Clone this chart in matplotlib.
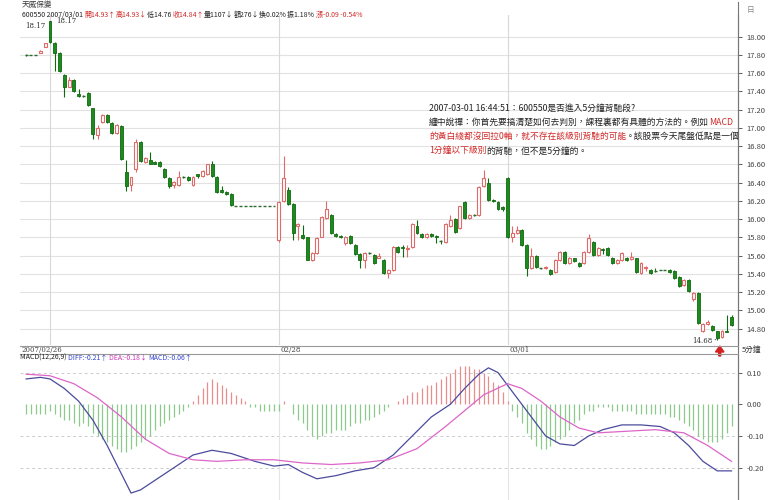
import matplotlib
matplotlib.use("Agg")
import matplotlib.pyplot as plt
from matplotlib.lines import Line2D

plt.rcParams['font.family'] = ['Noto Sans CJK TC', 'DejaVu Sans']

# 5-minute bars, 2007/02/26 (tail) .. 2007/03/01
opens = [17.80, 17.80, 17.80, 17.82, 17.89, 18.17, 17.93, 17.82, 17.58, 17.45,
         17.53, 17.37, 17.35, 17.38, 17.22, 16.92, 17.06, 17.14, 17.05, 16.94,
         17.02, 16.52, 16.37, 16.55, 16.85, 16.63, 16.65, 16.63, 16.63, 16.55,
         16.45, 16.37, 16.37, 16.46, 16.46, 16.37, 16.50, 16.47, 16.49, 16.60,
         16.46, 16.32, 16.30, 16.28, 16.14, 16.14, 16.14, 16.14, 16.14, 16.14,
         16.14, 16.14, 16.14, 15.77, 16.20, 16.32, 16.17, 15.93, 15.83, 15.80,
         15.55, 15.63, 15.81, 16.01, 16.05, 15.84, 15.82, 15.74, 15.82, 15.72,
         15.62, 15.55, 15.63, 15.61, 15.58, 15.55, 15.41, 15.44, 15.70, 15.69,
         15.67, 15.69, 15.92, 15.84, 15.80, 15.84, 15.82, 15.76, 15.75, 15.92,
         16.00, 15.90, 16.19, 16.01, 16.05, 16.05, 16.36, 16.40, 16.21, 16.19,
         16.13, 16.45, 15.80, 15.85, 15.88, 15.72, 15.46, 15.60, 15.46, 15.46,
         15.44, 15.42, 15.55, 15.64, 15.52, 15.57, 15.52, 15.52, 15.64, 15.75,
         15.61, 15.67, 15.68, 15.58, 15.52, 15.55, 15.58, 15.56, 15.57, 15.41,
         15.47, 15.44, 15.43, 15.44, 15.44, 15.44, 15.43, 15.37, 15.28, 15.33,
         15.13, 15.19, 14.77, 14.85, 14.83, 14.77, 14.71, 14.77, 14.93]
highs = [17.81, 17.80, 17.80, 17.85, 17.93, 18.17, 17.94, 17.83, 17.59, 17.56,
         17.54, 17.43, 17.36, 17.39, 17.22, 17.03, 17.15, 17.15, 17.06, 17.04,
         17.03, 16.65, 16.46, 16.88, 16.86, 16.68, 16.74, 16.64, 16.64, 16.56,
         16.46, 16.42, 16.53, 16.47, 16.47, 16.47, 16.50, 16.54, 16.61, 16.64,
         16.47, 16.36, 16.31, 16.29, 16.14, 16.14, 16.14, 16.14, 16.14, 16.14,
         16.14, 16.14, 16.14, 16.20, 16.69, 16.35, 16.18, 15.96, 15.94, 15.81,
         15.64, 15.80, 16.03, 16.20, 16.06, 15.85, 15.83, 15.82, 15.83, 15.73,
         15.63, 15.64, 15.64, 15.62, 15.63, 15.56, 15.45, 15.71, 15.71, 15.72,
         15.72, 15.96, 15.99, 15.85, 15.85, 15.85, 15.83, 15.77, 15.96, 16.05,
         16.01, 16.15, 16.20, 16.06, 16.06, 16.36, 16.54, 16.45, 16.22, 16.20,
         16.15, 16.46, 15.93, 15.93, 15.89, 15.73, 15.68, 15.61, 15.47, 15.49,
         15.45, 15.56, 15.65, 15.65, 15.59, 15.58, 15.53, 15.65, 15.84, 15.76,
         15.69, 15.68, 15.69, 15.59, 15.56, 15.64, 15.59, 15.64, 15.58, 15.53,
         15.49, 15.45, 15.47, 15.44, 15.44, 15.45, 15.44, 15.38, 15.34, 15.34,
         15.20, 15.20, 14.86, 14.90, 14.84, 14.78, 14.79, 14.95, 14.95]
lows = [17.79, 17.80, 17.80, 17.82, 17.89, 17.93, 17.62, 17.61, 17.34, 17.45,
        17.39, 17.34, 17.34, 17.24, 16.88, 16.88, 17.05, 17.05, 16.93, 16.93,
        16.65, 16.31, 16.31, 16.52, 16.63, 16.62, 16.60, 16.60, 16.57, 16.45,
        16.34, 16.34, 16.36, 16.45, 16.42, 16.36, 16.45, 16.46, 16.48, 16.46,
        16.29, 16.29, 16.27, 16.15, 16.14, 16.14, 16.14, 16.14, 16.14, 16.14,
        16.14, 16.14, 16.14, 15.75, 16.19, 16.16, 15.77, 15.77, 15.78, 15.55,
        15.54, 15.62, 15.80, 16.00, 15.84, 15.81, 15.79, 15.72, 15.73, 15.61,
        15.46, 15.46, 15.62, 15.51, 15.57, 15.40, 15.36, 15.43, 15.63, 15.59,
        15.59, 15.68, 15.84, 15.79, 15.79, 15.81, 15.74, 15.73, 15.74, 15.91,
        15.85, 15.89, 16.00, 16.00, 16.04, 16.04, 16.35, 16.20, 16.19, 16.10,
        16.09, 15.79, 15.75, 15.84, 15.71, 15.38, 15.45, 15.47, 15.45, 15.45,
        15.39, 15.41, 15.54, 15.51, 15.51, 15.53, 15.48, 15.51, 15.63, 15.60,
        15.60, 15.62, 15.60, 15.51, 15.51, 15.54, 15.54, 15.55, 15.41, 15.40,
        15.43, 15.40, 15.42, 15.44, 15.44, 15.41, 15.35, 15.26, 15.27, 15.20,
        15.10, 14.85, 14.76, 14.84, 14.78, 14.68, 14.70, 14.76, 14.83]
closes = [17.80, 17.80, 17.80, 17.84, 17.93, 17.94, 17.82, 17.62, 17.45, 17.53,
          17.40, 17.35, 17.35, 17.25, 16.93, 17.00, 17.14, 17.06, 16.94, 17.03,
          16.66, 16.36, 16.46, 16.85, 16.64, 16.67, 16.61, 16.61, 16.58, 16.46,
          16.36, 16.41, 16.46, 16.46, 16.43, 16.46, 16.47, 16.53, 16.60, 16.47,
          16.30, 16.30, 16.28, 16.16, 16.14, 16.14, 16.14, 16.14, 16.14, 16.14,
          16.14, 16.14, 16.14, 16.19, 16.45, 16.17, 15.85, 15.95, 15.79, 15.55,
          15.63, 15.79, 16.02, 16.11, 15.85, 15.82, 15.80, 15.81, 15.74, 15.62,
          15.55, 15.63, 15.63, 15.52, 15.60, 15.41, 15.44, 15.70, 15.64, 15.68,
          15.68, 15.95, 15.85, 15.80, 15.84, 15.82, 15.80, 15.76, 15.95, 15.99,
          15.86, 16.14, 16.01, 16.05, 16.05, 16.35, 16.45, 16.21, 16.20, 16.11,
          16.11, 15.80, 15.85, 15.88, 15.72, 15.46, 15.60, 15.48, 15.46, 15.48,
          15.40, 15.55, 15.64, 15.52, 15.58, 15.54, 15.49, 15.64, 15.79, 15.61,
          15.68, 15.66, 15.61, 15.52, 15.55, 15.63, 15.55, 15.59, 15.42, 15.52,
          15.48, 15.41, 15.43, 15.44, 15.44, 15.42, 15.36, 15.27, 15.33, 15.21,
          15.19, 14.86, 14.85, 14.87, 14.79, 14.70, 14.78, 14.76, 14.84]

macd_hist = [-0.03, -0.03, -0.03, -0.03, -0.03,
             -0.02, -0.03, -0.04, -0.05, -0.05, -0.06, -0.07,
             -0.06, -0.07, -0.09, -0.10, -0.11, -0.12, -0.13, -0.14, -0.15, -0.15, -0.14, -0.13,
             -0.12, -0.11, -0.10, -0.08, -0.07, -0.06, -0.05, -0.04, -0.03, -0.02, -0.01,
             0.01, 0.03, 0.05, 0.07, 0.08, 0.07, 0.06, 0.05, 0.04, 0.03, 0.02, 0.01,
             -0.01, -0.01, -0.02, -0.02, -0.02, -0.02,
             -0.02, 0.01, 0.00, -0.03, -0.05, -0.06, -0.08, -0.10, -0.11, -0.10, -0.09, -0.09,
             -0.08, -0.08, -0.08, -0.07,
             -0.06, -0.06, -0.05, -0.05, -0.04, -0.03, -0.02, -0.01, 0.00,
             0.01, 0.02, 0.03, 0.04, 0.04, 0.05, 0.06, 0.06, 0.07, 0.08, 0.09, 0.10,
             0.11, 0.12, 0.12, 0.12, 0.11, 0.11, 0.10, 0.09, 0.07, 0.06, 0.04,
             0.01, -0.02, -0.04, -0.06, -0.09, -0.11, -0.13, -0.14, -0.14, -0.13, -0.12,
             -0.11, -0.10, -0.08, -0.06, -0.05, -0.03, -0.02, -0.02, -0.01, -0.01, -0.01, -0.02, -0.02,
             -0.02, -0.02, -0.02, -0.03, -0.03, -0.03, -0.03, -0.03, -0.03, -0.03, -0.04, -0.04, -0.05,
             -0.06, -0.07, -0.08, -0.10, -0.11, -0.12, -0.12, -0.12, -0.11, -0.09, -0.07]

diff_bar = [0, 3, 5, 8, 11, 14, 17, 20, 22, 24, 27, 31, 35, 39, 43, 48, 52, 55, 58,
            61, 65, 69, 73, 77, 81, 85, 89, 92, 95, 97, 99, 101, 103, 106, 109, 112,
            115, 118, 121, 125, 129, 133, 136, 139, 142, 145, 148]
diff_val = [0.08, 0.085, 0.08, 0.05, 0.01, -0.05, -0.13, -0.22, -0.28, -0.27, -0.24,
            -0.20, -0.16, -0.145, -0.155, -0.18, -0.195, -0.19, -0.215, -0.235, -0.225,
            -0.21, -0.20, -0.16, -0.10, -0.04, 0.00, 0.05, 0.095, 0.115, 0.10, 0.06,
            0.02, -0.04, -0.10, -0.125, -0.13, -0.10, -0.08, -0.065, -0.065, -0.07,
            -0.09, -0.13, -0.18, -0.21, -0.21]
dea_bar = [0, 5, 10, 15, 20, 25, 30, 35, 40, 46, 52, 58, 64, 70, 76, 82, 88, 92,
           96, 101, 104, 108, 112, 116, 120, 126, 132, 138, 143, 148]
dea_val = [0.095, 0.09, 0.065, 0.02, -0.04, -0.11, -0.155, -0.175, -0.18, -0.175,
           -0.175, -0.185, -0.19, -0.185, -0.175, -0.14, -0.07, -0.02, 0.03, 0.065,
           0.05, 0.01, -0.04, -0.075, -0.09, -0.085, -0.08, -0.09, -0.13, -0.18]

price_ticks = [18.00, 17.80, 17.60, 17.40, 17.20, 17.00, 16.80, 16.60, 16.40,
               16.20, 16.00, 15.80, 15.60, 15.40, 15.20, 15.00, 14.80]
macd_ticks = [0.10, 0.00, -0.10, -0.20]
day_bars = [5, 53, 101]
date_labels = ['2007/02/26', '02/28', '03/01']

W, H = 772, 500
fig = plt.figure(figsize=(W / 100, H / 100), dpi=100)
fig.patch.set_facecolor('white')

BAR_PX = 4.766
X0_PX = 50 - 5 * BAR_PX          # pixel x of bar 0
AX_L, AX_R = 20, 738


def fx(px):
    return px / W


def fy(py):
    return 1 - py / H


def bar_xlim():
    return ((AX_L - X0_PX) / BAR_PX, (AX_R - X0_PX) / BAR_PX)


# main price panel: pixel y 15..345
ax = fig.add_axes([fx(AX_L), fy(345), fx(AX_R - AX_L), (345 - 15) / H])
ax.set_xlim(*bar_xlim())
top_p = 18 - (15 - 36.7) / 91.25
bot_p = 18 - (345 - 36.7) / 91.25
ax.set_ylim(bot_p, top_p)

for p in price_ticks:
    ax.axhline(p, color='#e2e2e2', lw=0.8, zorder=0)
for b in day_bars:
    ax.axvline(b, color='#d8d8d8', lw=0.8, zorder=0)

RED = '#e06a6a'
GREEN = '#1d8a1d'
w = 0.62
for i in range(len(opens)):
    o, h, l, c = opens[i], highs[i], lows[i], closes[i]
    if c > o:
        ax.vlines(i, l, o, color=RED, lw=0.8, zorder=2)
        ax.vlines(i, c, h, color=RED, lw=0.8, zorder=2)
        ax.bar(i, c - o, w, bottom=o, facecolor='white', edgecolor=RED,
               lw=0.8, zorder=3)
    elif c < o:
        ax.vlines(i, l, h, color='#0f6a0f', lw=0.8, zorder=2)
        ax.bar(i, o - c, w, bottom=c, facecolor=GREEN, edgecolor='#0f6a0f',
               lw=0.6, zorder=3)
    else:
        ax.vlines(i, l, h, color='#2a6a2a', lw=0.8, zorder=2)
        ax.hlines(o, i - w / 2, i + w / 2, color='#2a6a2a', lw=1.0, zorder=3)

ax.yaxis.tick_right()
ax.set_yticks(price_ticks)
ax.set_yticklabels(['%.2f' % p for p in price_ticks])
ax.tick_params(axis='y', length=3, width=0.6, labelsize=5.5, pad=3,
               colors='#444444')
ax.set_xticks([])
for s in ['left', 'top', 'bottom']:
    ax.spines[s].set_visible(False)
ax.spines['right'].set_color('#777777')
ax.spines['right'].set_linewidth(0.8)

# max / min markers
imax = highs.index(max(highs))
imin = lows.index(min(lows))
ax.annotate('%.2f' % highs[imax], xy=(imax, highs[imax]), xytext=(imax + 1.2, highs[imax]),
            fontsize=5, va='center', ha='left', color='#333333', family='DejaVu Serif',
            arrowprops=dict(arrowstyle='-', color='#333333', lw=0.6))
ax.text(imax - 1.0, highs[imax] - 0.05, '%.2f' % highs[imax], fontsize=5,
        ha='right', va='center', color='#333333', family='DejaVu Serif')
ax.annotate('%.2f' % lows[imin], xy=(imin - 0.3, lows[imin]), xytext=(imin - 5.3, lows[imin] - 0.02),
            fontsize=5, va='center', ha='left', color='#333333', family='DejaVu Serif',
            arrowprops=dict(arrowstyle='-', color='#333333', lw=0.6))

# MACD panel: pixel y 354..500
ax2 = fig.add_axes([fx(AX_L), 0, fx(AX_R - AX_L), (500 - 354) / H])
ax2.set_xlim(*bar_xlim())
ax2.set_ylim((404.3 - 500) / 317, (404.3 - 354) / 317)
for v in [0.10, -0.10, -0.20]:
    ax2.axhline(v, color='#cccccc', lw=0.7, ls=(0, (3, 3)), zorder=0)
for b in day_bars[1:]:
    ax2.axvline(b, color='#e4e4e4', lw=0.8, zorder=0)
xs = list(range(len(macd_hist)))
colors = ['#e88c8c' if v > 0 else '#8cc98c' for v in macd_hist]
ax2.vlines(xs, 0, macd_hist, colors=colors, lw=0.9, zorder=1)
ax2.plot(diff_bar, diff_val, color='#4b4b9c', lw=0.9, zorder=3)
ax2.plot(dea_bar, dea_val, color='#dd66c8', lw=0.9, zorder=3)
ax2.yaxis.tick_right()
ax2.set_yticks(macd_ticks)
ax2.set_yticklabels(['%.2f' % v for v in macd_ticks])
ax2.tick_params(axis='y', length=3, width=0.6, labelsize=5.5, pad=3,
                colors='#444444')
ax2.set_xticks([])
for s in ['left', 'top', 'bottom']:
    ax2.spines[s].set_visible(False)
ax2.spines['right'].set_color('#777777')
ax2.spines['right'].set_linewidth(0.8)

# right border line through the whole picture and the date strip
fig.add_artist(Line2D([fx(AX_R), fx(AX_R)], [fy(2), fy(500)], color='#777777', lw=0.8))
for py in (345.5, 354):
    fig.add_artist(Line2D([fx(AX_L), fx(AX_R)], [fy(py), fy(py)], color='#999999', lw=0.8))
fig.text(fx(22), fy(350), date_labels[0], fontsize=5, va='center', color='#444444',
         family='DejaVu Serif')
for b, lab in zip(day_bars[1:], date_labels[1:]):
    fig.text(fx(X0_PX + b * BAR_PX + 2), fy(350), lab, fontsize=5, va='center',
             color='#444444', family='DejaVu Serif')
fig.text(fx(742), fy(350), '5分鐘', fontsize=5.5, va='center', color='#333333')
fig.text(fx(747), fy(10), '日', fontsize=5.5, va='center', color='#888888')

# red arrow under the low
arrow_x = X0_PX + imin * BAR_PX + 2.5
fig.add_artist(matplotlib.patches.FancyArrow(
    fx(arrow_x), fy(356), 0, (356 - 346) / H, width=0.0025, head_width=0.011,
    head_length=0.012, color='#d42020', length_includes_head=True))

renderer = fig.canvas.get_renderer()


def runs(px, py, parts, size, family=None):
    x = px
    for s, col in parts:
        kw = {}
        if family:
            kw['family'] = family
        t = fig.text(fx(x), fy(py), s, color=col, fontsize=size, va='center',
                     ha='left', **kw)
        x += t.get_window_extent(renderer=renderer).width


DARK = '#222222'
TRED = '#d22a2a'

# header
fig.text(fx(22), fy(5), '天威保變', fontsize=5.5, va='center', color='#333333')
runs(22, 14.5, [('600550 2007/03/01 ', DARK), ('開14.93↑', TRED), ('高14.93↓', TRED),
                ('低14.76 ', DARK), ('收14.84↑', TRED), ('量1107↓', DARK),
                ('額276↓', DARK), ('換0.02% ', DARK), ('振1.18% ', DARK),
                ('漲-0.09 -0.54%', TRED)], 5)

# MACD caption
runs(20, 358, [('MACD(12,26,9) ', DARK), ('DIFF:-0.21↑ ', '#3344cc'),
               ('DEA:-0.18↓ ', '#cc33bb'), ('MACD:-0.06↑', '#3344cc')], 5)

# comment block
lines = [
    [('2007-03-01 16:44:51：600550是否進入5分鐘背馳段?', DARK)],
    [('纏中說禪：你首先要搞清楚如何去判別，課程裏都有具體的方法的。例如', DARK), ('MACD', TRED)],
    [('的黃白綫都沒回拉0軸，就不存在該級別背馳的可能', TRED), ('。該股票今天尾盤低點是一個', DARK)],
    [('1分鐘以下級別', TRED), ('的背馳，但不是5分鐘的。', DARK)],
]
for k, parts in enumerate(lines):
    runs(429, 108 + k * 14.3, parts, 6.3)

fig.savefig('out.png', dpi=100, facecolor='white')
